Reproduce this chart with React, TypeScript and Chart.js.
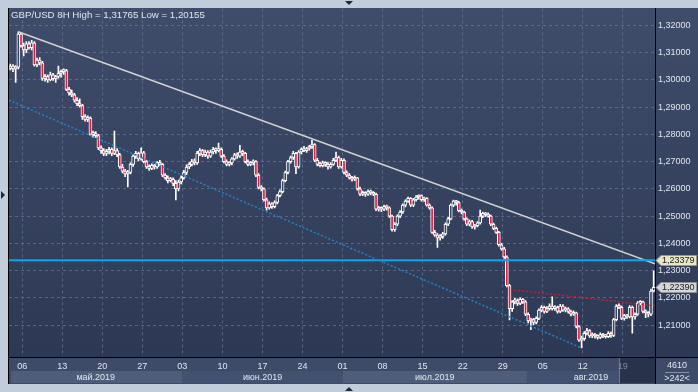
import React, { useEffect, useRef } from 'react';
import { Chart, registerables } from 'chart.js';

Chart.register(...registerables);

// ---- data (OHLC values are in pips above 1.2000) ----
const symbolTitle = 'GBP/USD 8H';
const periodHigh = 1.31765;
const periodLow = 1.20155;
const BASE = 1.2;
const PIP = 0.0001;

const opens = [
  1042,1050,1040,1046,1168,1125,1110,1132,1118,1136,1055,1072,1062,1005,1012,1000,1018,1004,1012,1024,
  1030,1034,965,952,945,925,912,905,865,855,860,800,802,795,750,740,730,738,745,730,
  740,725,680,665,655,660,690,720,730,710,732,700,680,675,686,680,695,690,650,640,
  630,635,620,600,625,640,660,680,690,700,695,730,740,725,735,720,735,745,740,745,
  720,700,690,695,710,725,720,735,730,700,690,695,700,650,605,600,560,530,545,535,
  550,575,590,630,660,700,715,730,680,735,745,740,748,755,762,705,690,685,695,690,
  680,690,705,715,680,705,660,650,640,635,640,600,580,585,580,590,585,580,525,530,
  525,535,530,500,450,470,500,515,540,555,565,540,560,570,575,560,565,540,530,440,
  430,420,425,435,470,490,540,555,550,520,515,490,470,480,460,465,475,500,510,505,
  500,470,455,440,395,380,350,245,160,185,190,180,195,185,140,115,120,110,125,155,
  165,150,160,170,160,165,150,170,155,160,150,140,145,95,45,50,70,80,60,65,
  60,55,65,60,58,70,62,120,170,165,125,135,130,165,130,140,180,185,150,145,
  140,225,
];
const highs = [
  1058,1056,1052,1176,1172,1135,1140,1140,1145,1140,1080,1082,1068,1020,1018,1028,1024,1016,1050,1036,
  1040,1038,972,962,950,935,930,910,872,868,864,812,810,800,758,748,745,752,750,812,
  748,730,690,672,668,695,725,738,735,750,738,705,688,692,690,700,705,694,656,648,
  642,640,630,632,648,668,688,696,708,710,738,748,745,742,740,742,752,750,768,750,
  726,706,700,715,730,732,760,742,734,706,700,706,704,656,612,604,566,552,550,556,
  580,596,636,665,705,720,738,734,740,750,756,752,760,779,766,712,698,702,700,696,
  696,712,735,720,712,710,666,656,646,648,642,606,592,590,596,595,590,584,536,534,
  540,540,534,504,476,505,520,545,560,570,568,565,575,578,578,570,568,545,534,448,
  436,432,440,475,495,545,559,558,554,526,518,494,486,484,470,480,522,515,514,512,
  504,474,460,444,400,385,354,250,190,198,196,200,198,190,145,126,125,130,160,172,
  170,168,178,204,172,170,176,175,166,164,155,152,148,98,60,76,88,84,72,70,
  64,72,70,66,76,75,125,175,178,170,140,140,172,170,145,186,190,188,156,150,
  232,299,
];
const lows = [
  1036,1030,990,1040,1120,1088,1100,1112,1110,1050,1048,1055,998,995,990,996,998,990,1006,1010,
  1020,960,944,938,918,905,900,855,848,846,795,790,788,744,730,722,722,728,722,725,
  718,675,658,645,607,655,682,712,702,705,695,675,668,670,672,675,684,645,635,622,
  625,612,559,592,618,635,652,674,684,688,690,722,718,718,712,715,728,730,735,715,
  695,684,684,688,705,712,715,722,695,684,685,688,645,600,592,555,522,525,528,530,
  545,570,585,625,655,694,708,656,676,728,736,734,742,748,700,684,680,680,682,672,
  676,686,700,675,676,655,645,635,628,630,595,575,575,572,576,578,575,520,518,516,
  520,522,495,445,444,465,494,510,534,550,535,535,555,562,555,554,536,525,436,425,
  385,412,418,430,465,486,535,540,515,508,485,465,464,455,452,460,470,494,498,496,
  465,450,436,390,375,345,240,119,150,178,172,175,180,135,108,83,102,104,120,148,
  144,146,155,155,154,144,146,150,148,144,134,136,90,40,16,44,64,55,54,52,
  48,50,54,52,54,55,58,115,160,120,118,125,126,70,122,136,174,145,127,130,
  135,222,
];
const closes = [
  1050,1040,1046,1168,1125,1110,1132,1118,1136,1055,1072,1062,1005,1012,1000,1018,1004,1012,1024,1030,
  1034,965,952,945,925,912,905,865,855,860,800,802,795,750,740,730,738,745,730,740,
  725,680,665,655,660,690,720,730,710,732,700,680,675,686,680,695,690,650,640,630,
  635,620,600,625,640,660,680,690,700,695,730,740,725,735,720,735,745,740,745,720,
  700,690,695,710,725,720,735,730,700,690,695,700,650,605,600,560,530,545,535,550,
  575,590,630,660,700,715,730,680,735,745,740,748,755,762,705,690,685,695,690,680,
  690,705,715,680,705,660,650,640,635,640,600,580,585,580,590,585,580,525,530,525,
  535,530,500,450,470,500,515,540,555,565,540,560,570,575,560,565,540,530,440,430,
  420,425,435,470,490,540,555,550,520,515,490,470,480,460,465,475,500,510,505,500,
  470,455,440,395,380,350,245,160,185,190,180,195,185,140,115,120,110,125,155,165,
  150,160,170,160,165,150,170,155,160,150,140,145,95,45,50,70,80,60,65,60,
  55,65,60,58,70,62,120,170,165,125,135,130,165,130,140,180,185,150,145,140,
  225,239,
];

const weekLabels = ['06','13','20','27','03','10','17','24','01','08','15','22','29','05','12','19'];
const firstMondayIndex = 5;
const candlesPerWeek = 15;
const monthLabels = ['май.2019', 'июн.2019', 'июл.2019', 'авг.2019'];
const monthBounds = [-0.5, 64.5, 124.5, 193.5, 241.5];
const priceTicks = [1.21, 1.22, 1.23, 1.24, 1.25, 1.26, 1.27, 1.28, 1.29, 1.30, 1.31, 1.32];
const yMin = 1.1983;
const yMax = 1.3262;

const resistanceLine = [{ x: 3, y: 1.31765 }, { x: 241.5, y: 1.2325 }];
const channelLine = [{ x: -0.5, y: 1.2925 }, { x: 214, y: 1.2016 }];
const redTrendLine = [{ x: 188.8, y: 1.2229 }, { x: 241.5, y: 1.2171 }];
const levelPrice = 1.23379;
const lastPrice = 1.2239;
const barsTotal = '4610';
const barsVisible = '>242<';

// ---- styles ----
const FONT = 'Arial, "Liberation Sans", sans-serif';
const FRAME = '#c2cddb';
const ROW_BG = '#3d4b68';
const BAND_LIGHT = '#4e5d7a';
const BAND_DARK = '#425170';
const TEXT = '#e1e7ef';
const GRID_C = 'rgba(100,115,145,0.75)';
const RED = '#e5173f';
const HOLLOW = '#37445f';

const fmt = (v: number) => v.toFixed(5).replace('.', ',');
const toPrice = (p: number) => BASE + p * PIP;
const weekLabelAt = (i: any) => {
  if (typeof i !== 'number' || i < firstMondayIndex) return '';
  if ((i - firstMondayIndex) % candlesPerWeek !== 0) return '';
  return weekLabels[(i - firstMondayIndex) / candlesPerWeek] ?? '';
};
const lastWeekTick = firstMondayIndex + candlesPerWeek * (weekLabels.length - 1);

function priceTag(ctx: CanvasRenderingContext2D, y: number, text: string, fill: string, stroke: string) {
  const x0 = 656, x1 = 696.5, h = 10;
  ctx.beginPath();
  ctx.moveTo(x0, y);
  ctx.lineTo(x0 + 5, y - h / 2);
  ctx.lineTo(x1, y - h / 2);
  ctx.lineTo(x1, y + h / 2);
  ctx.lineTo(x0 + 5, y + h / 2);
  ctx.closePath();
  ctx.fillStyle = fill;
  ctx.fill();
  ctx.lineWidth = 1;
  ctx.strokeStyle = stroke;
  ctx.stroke();
  ctx.fillStyle = '#1b1b1b';
  ctx.font = `9px ${FONT}`;
  ctx.textAlign = 'left';
  ctx.textBaseline = 'middle';
  ctx.fillText(text, x0 + 6, y + 0.5);
}

const decor = {
  id: 'decor',
  beforeDraw(chart: any) {
    const { ctx, chartArea: a, scales } = chart;
    const x2 = scales.x2;
    ctx.save();
    ctx.fillStyle = FRAME;
    ctx.fillRect(0, 0, 698, 392);
    const g = ctx.createLinearGradient(0, 8, 0, a.bottom);
    g.addColorStop(0, '#3f4c6a');
    g.addColorStop(1, '#2d3954');
    ctx.fillStyle = g;
    ctx.fillRect(8, 8, 690, a.bottom - 8);
    ctx.fillStyle = ROW_BG;
    ctx.fillRect(8, a.bottom, 690, 384 - a.bottom);
    for (let m = 0; m < monthLabels.length; m++) {
      let xs = x2.getPixelForValue(monthBounds[m]);
      if (m === 0) xs += 2;
      const xe = x2.getPixelForValue(monthBounds[m + 1]);
      ctx.fillStyle = m % 2 === 0 ? BAND_LIGHT : BAND_DARK;
      ctx.fillRect(xs, 371, xe - xs, 12);
    }
    const bx = Math.round(x2.getPixelForValue(lastWeekTick - 0.5)) - 4;
    ctx.fillStyle = '#28324a';
    ctx.fillRect(bx, 358, a.right - bx, 25);
    ctx.strokeStyle = '#6b7892';
    ctx.lineWidth = 1;
    ctx.beginPath();
    ctx.moveTo(bx + 0.5, 358);
    ctx.lineTo(bx + 0.5, 383);
    ctx.stroke();
    // frame arrows
    ctx.fillStyle = '#1d2739';
    ctx.beginPath(); ctx.moveTo(345, 1); ctx.lineTo(353, 1); ctx.lineTo(349, 5); ctx.closePath(); ctx.fill();
    ctx.beginPath(); ctx.moveTo(345, 391); ctx.lineTo(353, 391); ctx.lineTo(349, 387); ctx.closePath(); ctx.fill();
    ctx.beginPath(); ctx.moveTo(1, 191); ctx.lineTo(1, 199); ctx.lineTo(5, 195); ctx.closePath(); ctx.fill();
    ctx.restore();
  },
  afterDraw(chart: any) {
    const { ctx, chartArea: a, scales } = chart;
    const x2 = scales.x2;
    const y = scales.y;
    ctx.save();
    // separators
    ctx.strokeStyle = '#000';
    ctx.lineWidth = 1;
    ctx.beginPath();
    ctx.moveTo(8.5, 8); ctx.lineTo(8.5, 384);
    ctx.moveTo(a.right + 0.5, 8); ctx.lineTo(a.right + 0.5, 384);
    ctx.moveTo(8, a.bottom + 0.5); ctx.lineTo(698, a.bottom + 0.5);
    ctx.stroke();
    // title
    ctx.fillStyle = TEXT;
    ctx.font = `9.7px ${FONT}`;
    ctx.textAlign = 'left';
    ctx.textBaseline = 'alphabetic';
    ctx.fillText(`${symbolTitle} High = ${fmt(periodHigh)} Low = ${fmt(periodLow)}`, 11, 18);
    // month labels
    ctx.font = `9px ${FONT}`;
    ctx.textAlign = 'center';
    ctx.textBaseline = 'middle';
    for (let m = 0; m < monthLabels.length; m++) {
      const xs = x2.getPixelForValue(monthBounds[m]);
      const xe = x2.getPixelForValue(monthBounds[m + 1]);
      ctx.fillText(monthLabels[m], (xs + xe) / 2, 377.5);
    }
    // bar counters
    ctx.fillText(barsTotal, 677, 365.5);
    ctx.fillText(barsVisible, 677, 379);
    ctx.strokeStyle = '#8592a8';
    ctx.beginPath();
    ctx.moveTo(665, 372.5); ctx.lineTo(689, 372.5);
    ctx.stroke();
    // price tags
    priceTag(ctx, Math.round(y.getPixelForValue(levelPrice)) + 0.5, fmt(levelPrice), '#e9e7c6', '#9c9a7c');
    priceTag(ctx, Math.round(y.getPixelForValue(lastPrice)) + 0.5, fmt(lastPrice), '#d3d6da', '#8f949a');
    ctx.restore();
  },
};

export default function App() {
  const ref = useRef<HTMLCanvasElement>(null);
  useEffect(() => {
    const canvas = ref.current;
    if (!canvas) return;
    document.body.style.margin = '0';
    Chart.defaults.font.family = FONT;
    Chart.defaults.font.size = 9;
    const labels = closes.map((_, i) => String(i));
    const lineDs = (data: any[], color: string, width: number, dash: number[]) => ({
      type: 'line' as const,
      data,
      xAxisID: 'x2',
      yAxisID: 'y',
      borderColor: color,
      borderWidth: width,
      borderDash: dash,
      pointRadius: 0,
      fill: false,
      tension: 0,
      order: 0,
    });
    const chart = new Chart(canvas, {
      type: 'bar',
      data: {
        labels,
        datasets: [
          {
            type: 'bar',
            data: lows.map((l, i) => [toPrice(l), toPrice(highs[i])]) as any,
            backgroundColor: '#ffffff',
            barThickness: 1,
            grouped: false,
            order: 3,
            xAxisID: 'x',
            yAxisID: 'y',
          },
          {
            type: 'bar',
            data: opens.map((o, i) => [toPrice(o), toPrice(closes[i])]) as any,
            backgroundColor: closes.map((c, i) => (c < opens[i] ? RED : HOLLOW)),
            borderColor: '#ffffff',
            borderWidth: 1,
            borderSkipped: false,
            barThickness: 3,
            minBarLength: 2,
            grouped: false,
            order: 2,
            xAxisID: 'x',
            yAxisID: 'y',
          },
          lineDs(channelLine, '#1f84c8', 1.5, [2, 2]),
          lineDs(redTrendLine, '#c4202c', 1.5, [2, 2]),
          lineDs([{ x: -0.5, y: levelPrice }, { x: 241.5, y: levelPrice }], '#00a9f0', 2, []),
          lineDs(resistanceLine, '#d2d2d2', 1.5, []),
        ] as any,
      },
      options: {
        responsive: false,
        animation: false,
        devicePixelRatio: 1,
        events: [],
        layout: { padding: { left: 9, top: 8, right: 0, bottom: 7 } },
        plugins: { legend: { display: false }, tooltip: { enabled: false }, title: { display: false } },
        scales: {
          x: {
            type: 'category',
            offset: true,
            grid: {
              offset: true,
              drawTicks: false,
              lineWidth: 1,
              color: (c: any) => (weekLabelAt(c.index) ? GRID_C : 'rgba(0,0,0,0)'),
            },
            border: { display: false, dash: [3, 3] },
            ticks: {
              autoSkip: false,
              maxRotation: 0,
              minRotation: 0,
              padding: 4,
              labelOffset: -1.5,
              font: { size: 9 },
              color: (c: any) => (c.index === lastWeekTick ? '#7c879c' : TEXT),
              callback: (_v: any, i: number) => weekLabelAt(i),
            },
            afterFit: (s: any) => { s.height = 28; },
          },
          x2: {
            type: 'linear',
            display: false,
            min: -0.5,
            max: 241.5,
            offset: false,
          },
          y: {
            type: 'linear',
            position: 'right',
            min: yMin,
            max: yMax,
            grid: { drawTicks: false, color: GRID_C, lineWidth: 1 },
            border: { display: false, dash: [3, 3] },
            afterBuildTicks: (s: any) => { s.ticks = priceTicks.map((v) => ({ value: v })); },
            ticks: {
              padding: 3,
              color: TEXT,
              font: { size: 9 },
              callback: (v: any) => fmt(Number(v)),
            },
            afterFit: (s: any) => { s.width = 43; },
          },
        },
      } as any,
      plugins: [decor],
    });
    return () => chart.destroy();
  }, []);
  return (
    <div style={{ position: 'fixed', left: 0, top: 0, width: 698, height: 392 }}>
      <canvas ref={ref} width={698} height={392} style={{ display: 'block', width: 698, height: 392 }} />
    </div>
  );
}
